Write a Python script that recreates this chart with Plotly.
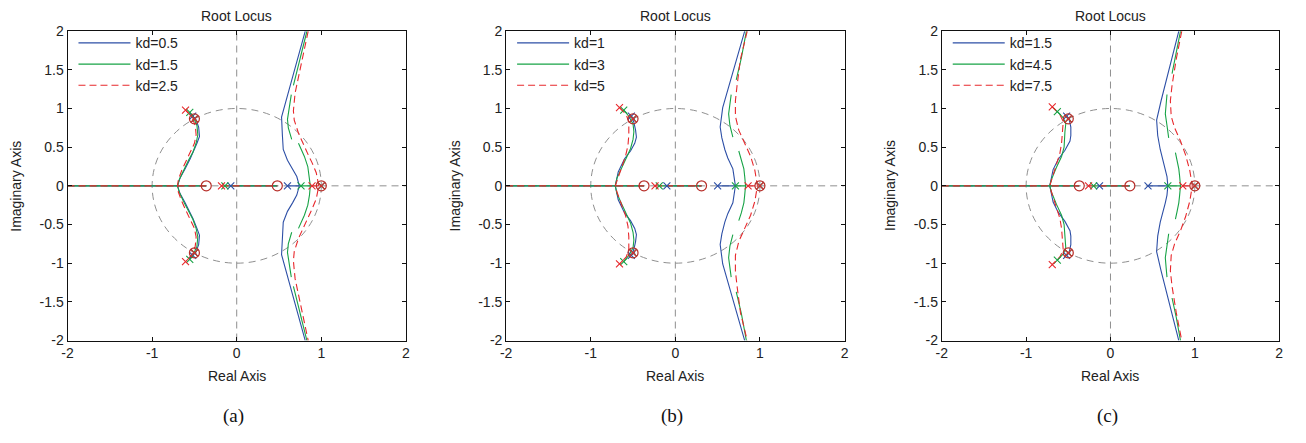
import plotly.graph_objects as go

# ---------------- data ----------------
X_TICKS = [-2, -1, 0, 1, 2]
X_TICK_TEXT = ["-2", "-1", "0", "1", "2"]
Y_TICKS = [-2, -1.5, -1, -0.5, 0, 0.5, 1, 1.5, 2]
Y_TICK_TEXT = ["-2", "-1.5", "-1", "-0.5", "0", "0.5", "1", "1.5", "2"]
CAPTIONS = ["(a)", "(b)", "(c)"]
ZERO_CPLX = [-0.5, 0.866]

# ---- panel (a)
A_KD = ["kd=0.5", "kd=1.5", "kd=2.5"]
A_ZEROS_RE = [-0.36, 0.48, 1.0]
A_BLUE_POLES = [-0.07, 0.60, 1.0]
A_BLUE_AXIS = [-2.0, -0.36, -0.07, 0.48, 0.60, 0.74]
A_BLUE_LX = [-0.52, -0.48, -0.45, -0.44, -0.47, -0.515, -0.55, -0.61, -0.67, -0.70]
A_BLUE_LY = [0.90, 0.85, 0.76, 0.64, 0.55, 0.43, 0.35, 0.22, 0.10, 0.0]
A_BLUE_RX = [0.74, 0.71, 0.66, 0.60, 0.55, 0.54, 0.53, 0.81]
A_BLUE_RY = [0.0, 0.12, 0.22, 0.33, 0.47, 0.65, 0.89, 2.0]
A_GREEN_POLES = [-0.14, 0.76, 1.0]
A_GREEN_AXIS = [-2.0, -0.36, -0.14, 0.48, 0.76, 0.87]
A_GREEN_LX = [-0.555, -0.51, -0.47, -0.46, -0.48, -0.52, -0.57, -0.63, -0.68, -0.70]
A_GREEN_LY = [0.95, 0.88, 0.78, 0.66, 0.55, 0.43, 0.33, 0.20, 0.08, 0.0]
A_GREEN_RX = [0.87, 0.86, 0.84, 0.80, 0.73, None, 0.65, 0.61, 0.60, 0.62, 0.645, None, 0.67, 0.74, 0.83]
A_GREEN_RY = [0.0, 0.12, 0.25, 0.38, 0.55, None, 0.60, 0.75, 0.86, 1.0, 1.18, None, 1.30, 1.60, 2.0]
A_RED_POLES = [-0.18, 0.89, 1.0]
A_RED_AXIS = [-2.0, -0.36, -0.18, 0.48, 0.89, 0.97]
A_RED_LX = [-0.605, -0.53, -0.49, -0.48, -0.50, -0.55, -0.60, -0.65, -0.69, -0.70]
A_RED_LY = [0.98, 0.89, 0.78, 0.66, 0.55, 0.43, 0.32, 0.20, 0.08, 0.0]
A_RED_RX = [0.97, 0.94, 0.89, 0.85, 0.78, 0.73, 0.68, 0.67, 0.69, 0.775, 0.845]
A_RED_RY = [0.0, 0.17, 0.30, 0.39, 0.55, 0.68, 0.85, 0.97, 1.20, 1.63, 2.0]

# ---- panel (b)
B_KD = ["kd=1", "kd=3", "kd=5"]
B_ZEROS_RE = [-0.37, 0.31, 1.0]
B_BLUE_POLES = [-0.10, 0.50, 1.0]
B_BLUE_AXIS = [-2.0, -0.37, -0.10, 0.31, 0.50, 0.71]
B_BLUE_LX = [-0.52, -0.49, -0.47, -0.46, -0.48, -0.53, -0.60, -0.675, -0.71]
B_BLUE_LY = [0.90, 0.82, 0.72, 0.63, 0.55, 0.45, 0.35, 0.18, 0.0]
B_BLUE_RX = [0.71, 0.68, 0.62, 0.585, 0.55, 0.53, 0.56, 0.67, 0.82]
B_BLUE_RY = [0.0, 0.22, 0.36, 0.47, 0.62, 0.76, 1.01, 1.43, 2.0]
B_GREEN_POLES = [-0.19, 0.71, 1.0]
B_GREEN_AXIS = [-2.0, -0.37, -0.19, 0.31, 0.71, 0.83]
B_GREEN_LX = [-0.61, -0.55, -0.50, -0.49, -0.50, -0.53, -0.58, -0.64, -0.69, -0.71]
B_GREEN_LY = [0.98, 0.90, 0.80, 0.70, 0.60, 0.48, 0.36, 0.22, 0.10, 0.0]
B_GREEN_RX = [0.83, 0.82, 0.81, 0.78, 0.75, None, 0.68, 0.645, 0.63, 0.645, 0.66, None, 0.72, 0.78, 0.84]
B_GREEN_RY = [0.0, 0.12, 0.22, 0.35, 0.45, None, 0.63, 0.78, 0.93, 1.08, 1.18, None, 1.37, 1.65, 2.0]
B_RED_POLES = [-0.24, 0.86, 1.0]
B_RED_AXIS = [-2.0, -0.37, -0.24, 0.31, 0.86, 0.97]
B_RED_LX = [-0.66, -0.58, -0.55, -0.55, -0.56, -0.59, -0.64, -0.69, -0.71]
B_RED_LY = [1.01, 0.92, 0.82, 0.66, 0.52, 0.38, 0.22, 0.08, 0.0]
B_RED_RX = [0.97, 0.94, 0.89, 0.82, 0.75, 0.71, 0.71, 0.73, 0.77, 0.85]
B_RED_RY = [0.0, 0.20, 0.38, 0.55, 0.72, 0.90, 1.10, 1.30, 1.64, 2.0]

# ---- panel (c)
C_KD = ["kd=1.5", "kd=4.5", "kd=7.5"]
C_ZEROS_RE = [-0.37, 0.23, 1.0]
C_BLUE_POLES = [-0.13, 0.445, 1.0]
C_BLUE_AXIS = [-2.0, -0.37, -0.13, 0.23, 0.445, 0.68]
C_BLUE_LX = [-0.52, -0.49, -0.47, -0.47, -0.48, -0.54, -0.62, -0.68, -0.72]
C_BLUE_LY = [0.90, 0.86, 0.76, 0.65, 0.58, 0.46, 0.34, 0.21, 0.0]
C_BLUE_RX = [0.68, 0.67, 0.65, 0.62, 0.59, 0.56, 0.547, 0.60, 0.665, 0.81]
C_BLUE_RY = [0.0, 0.12, 0.22, 0.33, 0.47, 0.65, 0.85, 1.10, 1.39, 2.0]
C_GREEN_POLES = [-0.20, 0.68, 1.0]
C_GREEN_AXIS = [-2.0, -0.37, -0.20, 0.23, 0.68, 0.83]
C_GREEN_LX = [-0.63, -0.56, -0.53, -0.54, -0.55, -0.58, -0.64, -0.70, -0.72]
C_GREEN_LY = [0.96, 0.88, 0.80, 0.70, 0.50, 0.38, 0.24, 0.08, 0.0]
C_GREEN_RX = [0.83, 0.82, 0.81, 0.79, 0.77, None, 0.69, 0.67, 0.65, 0.66, 0.67, None, 0.73, 0.78, 0.83]
C_GREEN_RY = [0.0, 0.12, 0.22, 0.33, 0.43, None, 0.62, 0.78, 0.93, 1.06, 1.18, None, 1.45, 1.70, 2.0]
C_RED_POLES = [-0.26, 0.857, 1.0]
C_RED_AXIS = [-2.0, -0.37, -0.26, 0.23, 0.857, 0.97]
C_RED_LX = [-0.69, -0.60, -0.56, -0.57, -0.58, -0.60, -0.65, -0.70, -0.72]
C_RED_LY = [1.02, 0.92, 0.83, 0.70, 0.55, 0.42, 0.25, 0.08, 0.0]
C_RED_RX = [0.97, 0.94, 0.89, 0.83, 0.76, 0.72, 0.71, 0.73, 0.78, 0.845]
C_RED_RY = [0.0, 0.20, 0.40, 0.58, 0.75, 0.90, 1.10, 1.30, 1.64, 2.0]

# ---------------- styling / layout ----------------
W, H = 1306, 443
PANEL_LEFT = [62, 504, 943]
PANEL_RIGHT = [403, 845, 1283]
PLOT_TOP, PLOT_BOTTOM = 24, 345
BLUE, GREEN, RED = "#2d4fa6", "#17a346", "#e8282c"
ZERO_COLOR = "#b8302b"
GRAY = "#8f8f8f"
FONT = "Liberation Sans, Arial, Helvetica, sans-serif"
SERIF = "Liberation Serif, Times New Roman, serif"


def neg(v):
    return None if v is None else -v


def left_path(lx, ly):
    xs = list(lx) + list(lx[-2::-1])
    ys = list(ly) + [neg(v) for v in ly[-2::-1]]
    return xs, ys


def right_path(rx, ry):
    xs = list(rx[::-1]) + list(rx[1:])
    ys = list(ry[::-1]) + [neg(v) for v in ry[1:]]
    return xs, ys


def axis_path(seg):
    xs, ys = [], []
    for i in range(0, len(seg), 2):
        xs += [seg[i], seg[i + 1], None]
        ys += [0, 0, None]
    return xs, ys


panels = [
    (A_KD, A_ZEROS_RE, [
        (A_BLUE_POLES, A_BLUE_AXIS, A_BLUE_LX, A_BLUE_LY, A_BLUE_RX, A_BLUE_RY),
        (A_GREEN_POLES, A_GREEN_AXIS, A_GREEN_LX, A_GREEN_LY, A_GREEN_RX, A_GREEN_RY),
        (A_RED_POLES, A_RED_AXIS, A_RED_LX, A_RED_LY, A_RED_RX, A_RED_RY)]),
    (B_KD, B_ZEROS_RE, [
        (B_BLUE_POLES, B_BLUE_AXIS, B_BLUE_LX, B_BLUE_LY, B_BLUE_RX, B_BLUE_RY),
        (B_GREEN_POLES, B_GREEN_AXIS, B_GREEN_LX, B_GREEN_LY, B_GREEN_RX, B_GREEN_RY),
        (B_RED_POLES, B_RED_AXIS, B_RED_LX, B_RED_LY, B_RED_RX, B_RED_RY)]),
    (C_KD, C_ZEROS_RE, [
        (C_BLUE_POLES, C_BLUE_AXIS, C_BLUE_LX, C_BLUE_LY, C_BLUE_RX, C_BLUE_RY),
        (C_GREEN_POLES, C_GREEN_AXIS, C_GREEN_LX, C_GREEN_LY, C_GREEN_RX, C_GREEN_RY),
        (C_RED_POLES, C_RED_AXIS, C_RED_LX, C_RED_LY, C_RED_RX, C_RED_RY)]),
]
COLORS = [BLUE, GREEN, RED]
DASHES = ["solid", "solid", "7px,4px"]

fig = go.Figure()
layout = dict(
    width=W, height=H, margin=dict(l=0, r=0, t=0, b=0),
    paper_bgcolor="white", plot_bgcolor="white",
    font=dict(family=FONT, size=14, color="#222"),
    shapes=[], annotations=[],
)

for p, (kds, zeros_re, series) in enumerate(panels):
    sfx = "" if p == 0 else str(p + 1)
    xa, ya = "x" + sfx, "y" + sfx
    leg = "legend" + sfx
    for s, (poles, axis, lx, ly, rx, ry) in enumerate(series):
        x1, y1 = left_path(lx, ly)
        x2, y2 = right_path(rx, ry)
        x3, y3 = axis_path(axis)
        fig.add_trace(go.Scatter(
            x=x1 + [None] + x2 + [None] + x3, y=y1 + [None] + y2 + [None] + y3,
            mode="lines", name=kds[s], legend=leg, xaxis=xa, yaxis=ya,
            line=dict(color=COLORS[s], width=1.1, dash=DASHES[s]),
            connectgaps=False, hoverinfo="skip"))
    for s, (poles, axis, lx, ly, rx, ry) in enumerate(series):
        px = list(poles) + [lx[0], lx[0], ZERO_CPLX[0], ZERO_CPLX[0]]
        py = [0] * len(poles) + [ly[0], -ly[0], ZERO_CPLX[1], -ZERO_CPLX[1]]
        fig.add_trace(go.Scatter(
            x=px, y=py, mode="markers", showlegend=False, xaxis=xa, yaxis=ya,
            marker=dict(symbol="x-thin-open", size=7, color=COLORS[s],
                        line=dict(color=COLORS[s], width=1.1)),
            hoverinfo="skip"))
    zx = list(zeros_re) + [ZERO_CPLX[0], ZERO_CPLX[0]]
    zy = [0] * len(zeros_re) + [ZERO_CPLX[1], -ZERO_CPLX[1]]
    fig.add_trace(go.Scatter(
        x=zx, y=zy, mode="markers", showlegend=False, xaxis=xa, yaxis=ya,
        marker=dict(symbol="circle-open", size=10, color=ZERO_COLOR,
                    line=dict(color=ZERO_COLOR, width=1.2)),
        hoverinfo="skip"))

    x0p, x1p = PANEL_LEFT[p] / W, PANEL_RIGHT[p] / W
    y0p, y1p = 1 - PLOT_BOTTOM / H, 1 - PLOT_TOP / H
    axcommon = dict(showgrid=False, zeroline=False, showline=True,
                    linecolor="#111", linewidth=1, mirror="allticks",
                    ticks="inside", ticklen=4, tickcolor="#111",
                    tickfont=dict(size=14, color="#222"), fixedrange=True)
    layout["xaxis" + sfx] = dict(domain=[x0p, x1p], range=[-2, 2],
                                 tickvals=X_TICKS, ticktext=X_TICK_TEXT,
                                 anchor=ya, **axcommon)
    layout["yaxis" + sfx] = dict(domain=[y0p, y1p], range=[-2, 2],
                                 tickvals=Y_TICKS, ticktext=Y_TICK_TEXT,
                                 anchor=xa, **axcommon)
    layout[leg] = dict(x=(PANEL_LEFT[p] + 6) / W, y=1 - 20 / H,
                       xanchor="left", yanchor="top", itemwidth=52,
                       bgcolor="rgba(255,255,255,0)", borderwidth=0,
                       font=dict(size=14, color="#222"), tracegroupgap=0)
    gl = dict(color=GRAY, width=1, dash="7px,5px")
    layout["shapes"] += [
        dict(type="circle", xref=xa, yref=ya, x0=-1, y0=-1, x1=1, y1=1,
             line=gl, layer="below"),
        dict(type="line", xref=xa, yref=ya, x0=0, y0=-2, x1=0, y1=2,
             line=gl, layer="below"),
        dict(type="line", xref=xa, yref=ya, x0=-2, y0=0, x1=2, y1=0,
             line=gl, layer="below"),
    ]
    cx = (PANEL_LEFT[p] + PANEL_RIGHT[p]) / 2 / W
    layout["annotations"] += [
        dict(text="Root Locus", x=cx, y=1 - 8 / H, xref="paper", yref="paper",
             xanchor="center", yanchor="middle", showarrow=False,
             font=dict(size=14, color="#222")),
        dict(text="Real Axis", x=cx, y=1 - 382 / H, xref="paper", yref="paper",
             xanchor="center", yanchor="middle", showarrow=False,
             font=dict(size=14, color="#222")),
        dict(text="Imaginary Axis", x=(PANEL_LEFT[p] - 52) / W,
             y=1 - (PLOT_TOP + PLOT_BOTTOM) / 2 / H, xref="paper", yref="paper",
             xanchor="center", yanchor="middle", textangle=-90, showarrow=False,
             font=dict(size=14, color="#222")),
        dict(text=CAPTIONS[p], x=cx - 3 / W, y=1 - 423 / H, xref="paper", yref="paper",
             xanchor="center", yanchor="middle", showarrow=False,
             font=dict(size=19, color="#111", family=SERIF)),
    ]

fig.update_layout(**layout)
fig.write_html("out.html")
